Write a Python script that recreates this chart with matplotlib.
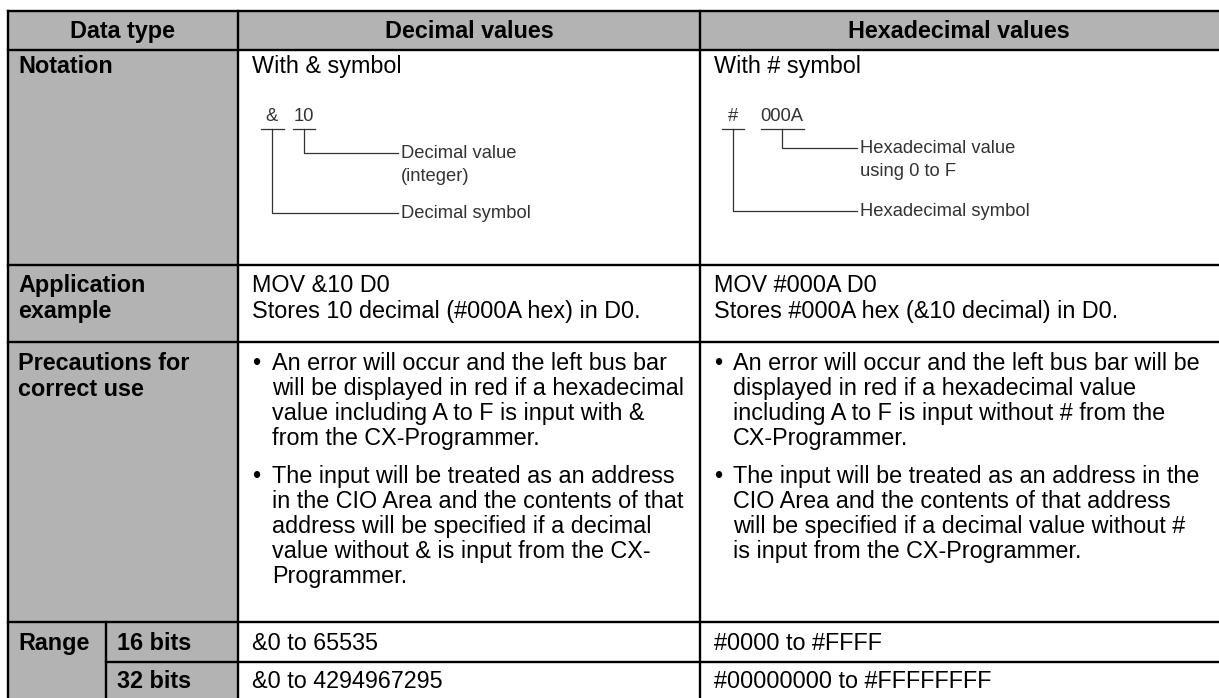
import matplotlib
matplotlib.use("Agg")
import matplotlib.pyplot as plt
from matplotlib.patches import Rectangle

plt.rcParams['font.family'] = ['Liberation Sans', 'DejaVu Sans']

# table content
headers = ["Data type", "Decimal values", "Hexadecimal values"]
row_labels = ["Notation", "Application\nexample", "Precautions for\ncorrect use"]
notation = ["With & symbol", "With # symbol"]
app_example = [["MOV &10 D0", "Stores 10 decimal (#000A hex) in D0."],
               ["MOV #000A D0", "Stores #000A hex (&10 decimal) in D0."]]
dec_prec = [["An error will occur and the left bus bar",
             "will be displayed in red if a hexadecimal",
             "value including A to F is input with &",
             "from the CX-Programmer."],
            ["The input will be treated as an address",
             "in the CIO Area and the contents of that",
             "address will be specified if a decimal",
             "value without & is input from the CX-",
             "Programmer."]]
hex_prec = [["An error will occur and the left bus bar will be",
             "displayed in red if a hexadecimal value",
             "including A to F is input without # from the",
             "CX-Programmer."],
            ["The input will be treated as an address in the",
             "CIO Area and the contents of that address",
             "will be specified if a decimal value without #",
             "is input from the CX-Programmer."]]
range_label = "Range"
bit_labels = ["16 bits", "32 bits"]
dec_range = ["&0 to 65535", "&0 to 4294967295"]
hex_range = ["#0000 to #FFFF", "#00000000 to #FFFFFFFF"]
dec_diag = ["&", "10", ["Decimal value", "(integer)"], ["Decimal symbol"]]
hex_diag = ["#", "000A", ["Hexadecimal value", "using 0 to F"], ["Hexadecimal symbol"]]

W, H = 1219, 698
fig = plt.figure(figsize=(W / 100, H / 100), dpi=100)
ax = fig.add_axes([0, 0, 1, 1])
ax.set_xlim(0, W)
ax.set_ylim(H, 0)
ax.axis('off')

gray = '#b3b3b3'
lw = 1.7
FS = 16.8
DFS = 13.2

x0, x1, x2, xr = 8, 238, 700, 1221
xs = 106
y_top, y_h, y_n, y_a, y_p, y_16, y_bot = 10.5, 50, 265, 342, 622, 662, 700

# gray fills
ax.add_patch(Rectangle((x0, y_top), xr - x0, y_h - y_top, color=gray, lw=0))
ax.add_patch(Rectangle((x0, y_h), x1 - x0, y_bot - y_h, color=gray, lw=0))

# grid lines
for y in [y_top, y_h, y_n, y_a, y_p]:
    ax.plot([x0, xr], [y, y], color='black', lw=lw, solid_capstyle='projecting')
ax.plot([xs, xr], [y_16, y_16], color='black', lw=lw)
for x in [x0, x1, x2]:
    ax.plot([x, x], [y_top, y_bot], color='black', lw=lw)
ax.plot([xs, xs], [y_p, y_bot], color='black', lw=lw)


def txt(x, y, s, bold=False, size=FS, ha='left', color='black'):
    ax.text(x, y, s, fontsize=size, fontweight='bold' if bold else 'normal',
            ha=ha, va='baseline', color=color)


# header
for s, (a, b) in zip(headers, [(x0, x1), (x1, x2), (x2, 1218)]):
    txt((a + b) / 2, 38, s, bold=True, ha='center')

# left labels
for s, yb in zip(row_labels, [73, 292, 370]):
    for i, line in enumerate(s.split("\n")):
        txt(18, yb + i * 26, line, bold=True)
txt(18, 650, range_label, bold=True)
txt(117, 650, bit_labels[0], bold=True)
txt(117, 688, bit_labels[1], bold=True)

# notation
txt(252, 73, notation[0])
txt(714, 73, notation[1])

# notation diagrams
dcol = '#333333'


def diagram(sym, sx, sw, val, vx, vw, y_val, y_sym, line_end, val_lbl, sym_lbl):
    uy = 129
    txt(sx, 121, sym, size=DFS, ha='center', color=dcol)
    txt(vx, 121, val, size=DFS, ha='center', color=dcol)
    ax.plot([sx - sw / 2, sx + sw / 2], [uy, uy], color=dcol, lw=0.9)
    ax.plot([vx - vw / 2, vx + vw / 2], [uy, uy], color=dcol, lw=0.9)
    ax.plot([vx, vx, line_end], [uy, y_val, y_val], color=dcol, lw=0.9)
    ax.plot([sx, sx, line_end], [uy, y_sym, y_sym], color=dcol, lw=0.9)
    for i, s in enumerate(val_lbl):
        txt(line_end + 3, y_val + 5 + i * 23, s, size=DFS, color=dcol)
    for i, s in enumerate(sym_lbl):
        txt(line_end + 3, y_sym + 5 + i * 23, s, size=DFS, color=dcol)


diagram(dec_diag[0], 272, 23, dec_diag[1], 304, 22, 153, 213, 398,
        dec_diag[2], dec_diag[3])
diagram(hex_diag[0], 733, 22, hex_diag[1], 782, 43, 148, 211, 857,
        hex_diag[2], hex_diag[3])

# application example
for col, xx in zip(app_example, [252, 714]):
    txt(xx, 292, col[0])
    txt(xx, 318, col[1])

# precautions
for paras, xb, xt in [(dec_prec, 252, 272), (hex_prec, 714, 733)]:
    yb = 370
    for para in paras:
        txt(xb, yb, "\u2022")
        for line in para:
            txt(xt, yb, line)
            yb += 25
        yb += 13

# range values
txt(252, 650, dec_range[0])
txt(252, 688, dec_range[1])
txt(714, 650, hex_range[0])
txt(714, 688, hex_range[1])

fig.savefig("out.png", dpi=100)
